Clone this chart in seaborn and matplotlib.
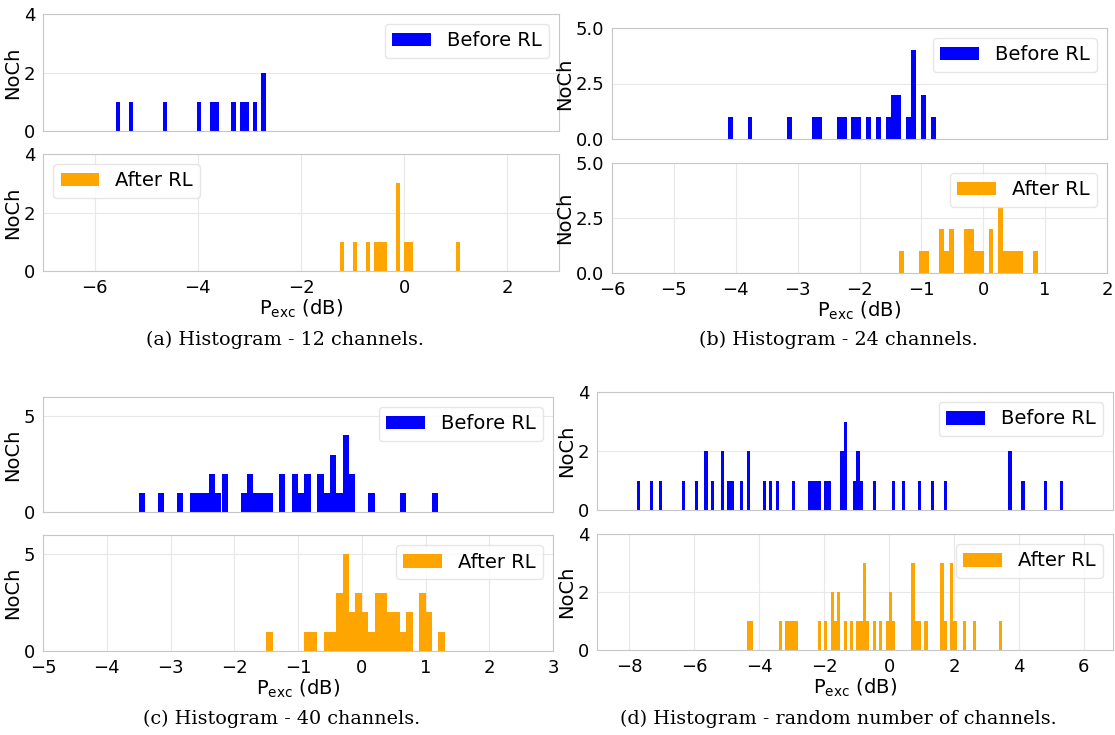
import matplotlib
matplotlib.use("Agg")
import matplotlib.pyplot as plt
import seaborn as sns

# P_exc (dB) per channel
before_12 = [-5.55, -5.30, -4.63, -3.97, -3.72, -3.64, -3.30, -3.14, -3.06, -2.89, -2.72, -2.72]
after_12 = [-1.20, -0.95, -0.70, -0.54, -0.45, -0.37, -0.12, -0.12, -0.12, 0.04, 0.13, 1.04]

before_24 = [-4.09, -3.77, -3.13, -2.73, -2.65, -2.33, -2.25, -2.09, -2.01, -1.85, -1.69, -1.53,
             -1.45, -1.45, -1.37, -1.37, -1.21, -1.13, -1.13, -1.13, -1.13, -0.97, -0.97, -0.81]
after_24 = [-1.32, -1.00, -0.92, -0.68, -0.68, -0.60, -0.52, -0.52, -0.28, -0.28, -0.20, -0.20,
            -0.12, -0.04, 0.12, 0.12, 0.28, 0.28, 0.28, 0.36, 0.44, 0.52, 0.60, 0.84]

before_40 = [-3.45, -3.15, -2.85, -2.65, -2.55, -2.45, -2.35, -2.35, -2.25, -2.15, -2.15, -1.85,
             -1.75, -1.75, -1.65, -1.55, -1.45, -1.25, -1.25, -1.05, -1.05, -0.95, -0.85, -0.85,
             -0.65, -0.65, -0.55, -0.45, -0.45, -0.45, -0.35, -0.25, -0.25, -0.25, -0.25, -0.15,
             -0.15, 0.15, 0.65, 1.15]
after_40 = [-1.44, -0.84, -0.74, -0.54, -0.44, -0.34, -0.34, -0.34, -0.24, -0.24, -0.24, -0.24,
            -0.24, -0.14, -0.14, -0.04, -0.04, -0.04, 0.06, 0.06, 0.16, 0.26, 0.26, 0.26, 0.36,
            0.36, 0.36, 0.46, 0.46, 0.56, 0.56, 0.66, 0.76, 0.76, 0.96, 0.96, 0.96, 1.06, 1.06,
            1.26]

before_rand = [-7.73, -7.33, -7.03, -6.34, -5.94, -5.64, -5.64, -5.44, -5.14, -5.14, -4.94, -4.84,
               -4.54, -4.34, -4.34, -3.85, -3.65, -3.45, -2.95, -2.45, -2.35, -2.25, -2.15, -1.95,
               -1.85, -1.46, -1.46, -1.36, -1.36, -1.36, -1.06, -0.96, -0.96, -0.86, -0.46, 0.14,
               0.44, 0.94, 1.33, 1.73, 3.72, 3.72, 4.12, 4.82, 5.32]
after_rand = [-4.34, -4.24, -3.35, -3.14, -3.04, -2.94, -2.84, -2.15, -1.95, -1.74, -1.74, -1.65,
              -1.55, -1.55, -1.35, -1.15, -0.95, -0.85, -0.75, -0.75, -0.75, -0.65, -0.46, -0.26,
              -0.06, 0.04, 0.04, 0.14, 0.74, 0.74, 0.74, 0.84, 0.94, 1.14, 1.64, 1.64, 1.64, 1.73,
              1.93, 1.93, 1.93, 2.03, 2.33, 2.63, 3.43]

captions = ["(a) Histogram - 12 channels.", "(b) Histogram - 24 channels.",
            "(c) Histogram - 40 channels.", "(d) Histogram - random number of channels."]

sns.set_style("whitegrid")
plt.rcParams.update({
    "axes.edgecolor": "0.78",
    "grid.color": "0.91",
    "text.color": "black",
    "xtick.color": "black",
    "ytick.color": "black",
    "axes.labelcolor": "black",
    "xtick.labelsize": 13,
    "ytick.labelsize": 13,
    "xtick.major.pad": 2,
    "ytick.major.pad": 2,
    "axes.labelsize": 14,
    "legend.fontsize": 14,
    "legend.edgecolor": "0.88",
})

W, H = 1115, 735
fig = plt.figure(figsize=(W / 100, H / 100), dpi=100)


def px_axes(x0, y0, x1, y1):
    return fig.add_axes([x0 / W, 1 - y1 / H, (x1 - x0) / W, (y1 - y0) / H])


def draw_panel(top_box, bot_box, before, after, bins_b, bins_a, xlim, xticks,
               ylim, yticks, loc_top, loc_bot, caption, cap_xy):
    ax1 = px_axes(*top_box)
    ax2 = px_axes(*bot_box)
    sns.histplot(x=before, bins=bins_b[0], binrange=bins_b[1], color="blue", alpha=1,
                 linewidth=0, label="Before RL", ax=ax1)
    sns.histplot(x=after, bins=bins_a[0], binrange=bins_a[1], color="orange", alpha=1,
                 linewidth=0, label="After RL", ax=ax2)
    for ax in (ax1, ax2):
        ax.set_xlim(xlim)
        ax.set_ylim(ylim)
        ax.set_yticks(yticks)
        ax.set_ylabel("NoCh", labelpad=1)
    ax1.set_xticks([])
    ax1.set_xlabel("")
    ax2.set_xticks(xticks)
    ax2.set_xlabel(r"P$_{\mathrm{exc}}$ (dB)", labelpad=1)
    ax1.legend(loc=loc_top)
    ax2.legend(loc=loc_bot)
    fig.text(cap_xy[0], cap_xy[1], caption, ha="center", va="center",
             family="DejaVu Serif", fontsize=13.8)


draw_panel((43, 14, 559, 131), (43, 154, 559, 271), before_12, after_12,
           (35, (-5.59, -2.685)), (28, (-1.24, 1.084)), (-7, 3), [-6, -4, -2, 0, 2],
           (0, 4), [0, 2, 4], "upper right", "upper left", captions[0], (285 / W, 1 - 340 / H))

draw_panel((612, 28, 1107, 139), (612, 163, 1107, 273), before_24, after_24,
           (42, (-4.13, -0.77)), (28, (-1.355, 0.885)), (-6, 2), list(range(-6, 3)),
           (0, 5), [0, 2.5, 5], "upper right", "upper right", captions[1], (838 / W, 1 - 340 / H))

draw_panel((43, 397, 553, 512), (43, 535, 553, 651), before_40, after_40,
           (48, (-3.5, 1.3)), (48, (-3.5, 1.3)), (-5, 3), list(range(-5, 4)),
           (0, 6), [0, 5], "upper right", "upper right", captions[2], (282 / W, 1 - 719 / H))

draw_panel((597, 392, 1113, 510), (597, 534, 1113, 650), before_rand, after_rand,
           (132, (-7.78, 5.37)), (132, (-7.78, 5.37)), (-9, 6.9), [-8, -6, -4, -2, 0, 2, 4, 6],
           (0, 4), [0, 2, 4], "upper right", "upper right", captions[3], (838 / W, 1 - 719 / H))

fig.savefig("out.png", dpi=100)
